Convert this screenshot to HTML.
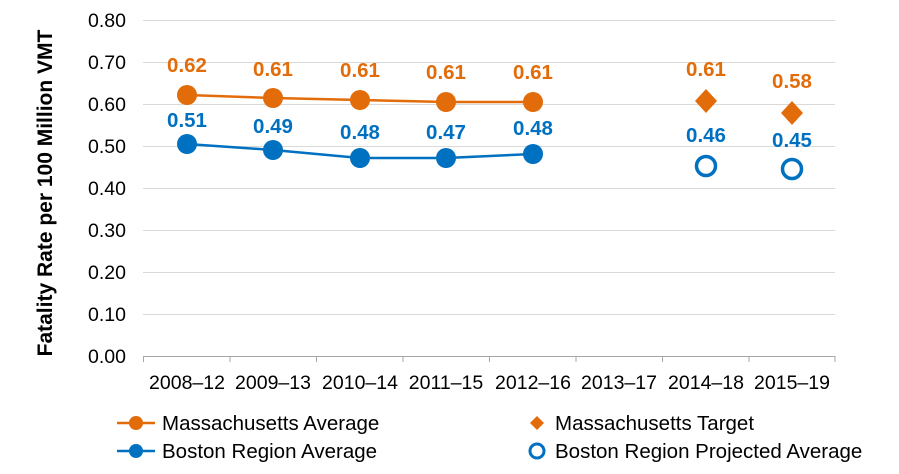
<!DOCTYPE html>
<html><head><meta charset="utf-8"><style>
html,body{margin:0;padding:0;background:#fff;}
svg{display:block;font-family:"Liberation Sans",Arial,sans-serif;}
</style></head><body>
<svg width="899" height="474" viewBox="0 0 899 474" xmlns="http://www.w3.org/2000/svg">
<g stroke="#d9d9d9" stroke-width="1">
<line x1="143" x2="835" y1="20.5" y2="20.5"/>
<line x1="143" x2="835" y1="62.5" y2="62.5"/>
<line x1="143" x2="835" y1="104.5" y2="104.5"/>
<line x1="143" x2="835" y1="146.5" y2="146.5"/>
<line x1="143" x2="835" y1="188.5" y2="188.5"/>
<line x1="143" x2="835" y1="230.5" y2="230.5"/>
<line x1="143" x2="835" y1="272.5" y2="272.5"/>
<line x1="143" x2="835" y1="314.5" y2="314.5"/>
</g>
<g stroke="#a6a6a6" stroke-width="1">
<line x1="143" x2="835" y1="356.5" y2="356.5"/>
<line x1="143.5" x2="143.5" y1="356" y2="362"/>
<line x1="230" x2="230" y1="356" y2="362"/>
<line x1="316.5" x2="316.5" y1="356" y2="362"/>
<line x1="403" x2="403" y1="356" y2="362"/>
<line x1="489.5" x2="489.5" y1="356" y2="362"/>
<line x1="576" x2="576" y1="356" y2="362"/>
<line x1="662.5" x2="662.5" y1="356" y2="362"/>
<line x1="749" x2="749" y1="356" y2="362"/>
<line x1="835" x2="835" y1="356" y2="362"/>
</g>
<g font-size="19.5" fill="#000" text-anchor="end">
<text x="126" y="27">0.80</text>
<text x="126" y="69">0.70</text>
<text x="126" y="111">0.60</text>
<text x="126" y="153">0.50</text>
<text x="126" y="195">0.40</text>
<text x="126" y="237">0.30</text>
<text x="126" y="279">0.20</text>
<text x="126" y="321">0.10</text>
<text x="126" y="363">0.00</text>
</g>
<g font-size="19.5" fill="#000" text-anchor="middle">
<text x="187" y="389">2008–12</text>
<text x="273" y="389">2009–13</text>
<text x="360" y="389">2010–14</text>
<text x="446" y="389">2011–15</text>
<text x="533" y="389">2012–16</text>
<text x="619" y="389">2013–17</text>
<text x="706" y="389">2014–18</text>
<text x="792" y="389">2015–19</text>
</g>
<text transform="translate(52,193) rotate(-90)" font-size="21" font-weight="bold" text-anchor="middle">Fatality Rate per 100 Million VMT</text>
<polyline fill="none" stroke="#E36C0A" stroke-width="2.5" points="187,95 273,98 360,100 446,102 533,102"/>
<g fill="#E36C0A">
<circle cx="187" cy="95" r="10"/><circle cx="273" cy="98" r="10"/><circle cx="360" cy="100" r="10"/><circle cx="446" cy="102" r="10"/><circle cx="533" cy="102" r="10"/>
<polygon points="706,89 717,101 706,113 695,101"/>
<polygon points="792,101 803,113 792,125 781,113"/>
</g>
<polyline fill="none" stroke="#0070C0" stroke-width="2.5" points="187,144 273,150 360,158 446,158 533,154"/>
<g fill="#0070C0">
<circle cx="187" cy="144" r="10"/><circle cx="273" cy="150" r="10"/><circle cx="360" cy="158" r="10"/><circle cx="446" cy="158" r="10"/><circle cx="533" cy="154" r="10"/>
</g>
<g fill="#fff" stroke="#0070C0" stroke-width="3.5">
<circle cx="706" cy="166" r="9.5"/><circle cx="792" cy="169" r="9.5"/>
</g>
<g font-size="20.5" font-weight="bold" fill="#E36C0A" text-anchor="middle">
<text x="187" y="72">0.62</text><text x="273" y="76">0.61</text><text x="360" y="77">0.61</text><text x="446" y="79">0.61</text><text x="533" y="79">0.61</text>
<text x="706" y="76">0.61</text><text x="792" y="88">0.58</text>
</g>
<g font-size="20.5" font-weight="bold" fill="#0070C0" text-anchor="middle">
<text x="187" y="127">0.51</text><text x="273" y="133">0.49</text><text x="360" y="139">0.48</text><text x="446" y="139">0.47</text><text x="533" y="135">0.48</text>
<text x="706" y="142">0.46</text><text x="792" y="147">0.45</text>
</g>
<line x1="117" x2="155" y1="423" y2="423" stroke="#E36C0A" stroke-width="2.5"/>
<circle cx="136" cy="423" r="7" fill="#E36C0A"/>
<text x="162" y="430" font-size="20.5">Massachusetts Average</text>
<line x1="117" x2="155" y1="451" y2="451" stroke="#0070C0" stroke-width="2.5"/>
<circle cx="136" cy="451" r="7" fill="#0070C0"/>
<text x="162" y="458" font-size="20.5">Boston Region Average</text>
<polygon points="537,416 544,423 537,430 530,423" fill="#E36C0A"/>
<text x="555" y="430" font-size="20.5">Massachusetts Target</text>
<circle cx="537" cy="451" r="7" fill="#fff" stroke="#0070C0" stroke-width="3"/>
<text x="555" y="458" font-size="20.5">Boston Region Projected Average</text>
</svg>
</body></html>
